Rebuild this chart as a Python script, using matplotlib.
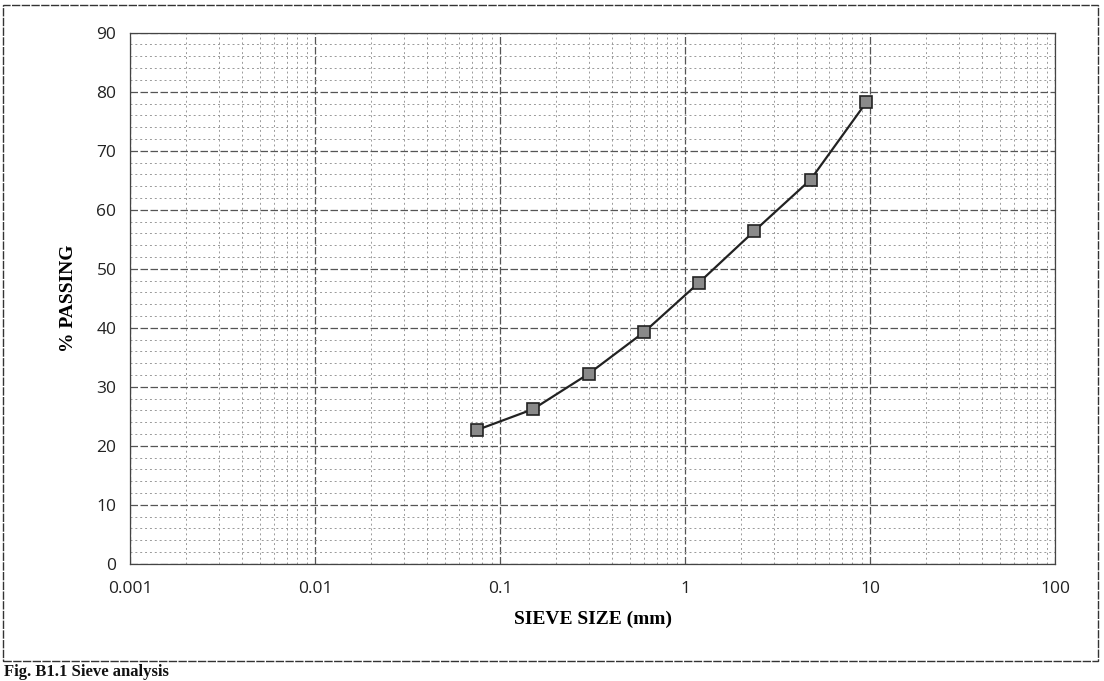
import numpy as np
import matplotlib.pyplot as plt
from matplotlib.patches import Rectangle
from matplotlib.ticker import FixedLocator, FuncFormatter, MultipleLocator

# sieve analysis data
sieve_mm = [0.075, 0.15, 0.3, 0.6, 1.18, 2.36, 4.75, 9.5]
passing = [22.7, 26.2, 32.2, 39.3, 47.6, 56.4, 65.1, 78.2]

x_ticks = [0.001, 0.01, 0.1, 1, 10, 100]
x_labels = ['0.001', '0.01', '0.1', '1', '10', '100']
y_ticks = [0, 10, 20, 30, 40, 50, 60, 70, 80, 90]

fig = plt.figure(figsize=(11.04, 6.81), dpi=100)
ax = fig.add_axes([0.118, 0.172, 0.838, 0.78])

ax.plot(sieve_mm, passing, color='#222222', lw=1.6,
        marker='s', ms=9, mfc='#8a8a8a', mec='#222222', mew=1.2)

ax.set_xscale('log')
ax.set_xlim(0.001, 100)
ax.set_ylim(0, 90)
ax.xaxis.set_major_locator(FixedLocator(x_ticks))
ax.xaxis.set_major_formatter(FuncFormatter(lambda v, p: x_labels[x_ticks.index(v)] if v in x_ticks else ''))
ax.yaxis.set_major_locator(FixedLocator(y_ticks))
ax.yaxis.set_minor_locator(MultipleLocator(2))

ax.grid(which='major', color='#555555', ls=(0, (6, 2)), lw=0.9)
ax.grid(which='minor', color='#999999', ls=(0, (2, 3)), lw=0.7)
ax.tick_params(which='both', length=0)
ax.tick_params(axis='x', pad=12)
ax.tick_params(axis='y', pad=10)
for lbl in ax.get_xticklabels() + ax.get_yticklabels():
    lbl.set_fontfamily('Open Sans')
    lbl.set_fontsize(12.5)
    lbl.set_color('#222222')
for s in ax.spines.values():
    s.set_color('#444444')
    s.set_linewidth(0.9)
    s.set_linestyle((0, (5, 1)))

ax.set_xlabel('SIEVE SIZE (mm)', fontfamily='Liberation Serif', fontweight='bold',
              fontsize=14, labelpad=10)
ax.set_ylabel('% PASSING', fontfamily='Liberation Serif', fontweight='bold',
              fontsize=14, labelpad=14)

# outer frame of the scanned chart
fig.patches.append(Rectangle((0.003, 0.03), 0.992, 0.963, transform=fig.transFigure,
                             fill=False, ec='#333333', lw=1.0, ls=(0, (6, 1))))
fig.text(0.004, 0.002, 'Fig. B1.1 Sieve analysis', fontfamily='Liberation Serif',
         fontweight='bold', fontsize=12, va='bottom', ha='left', color='#111111')

fig.savefig('out.png', dpi=100)
